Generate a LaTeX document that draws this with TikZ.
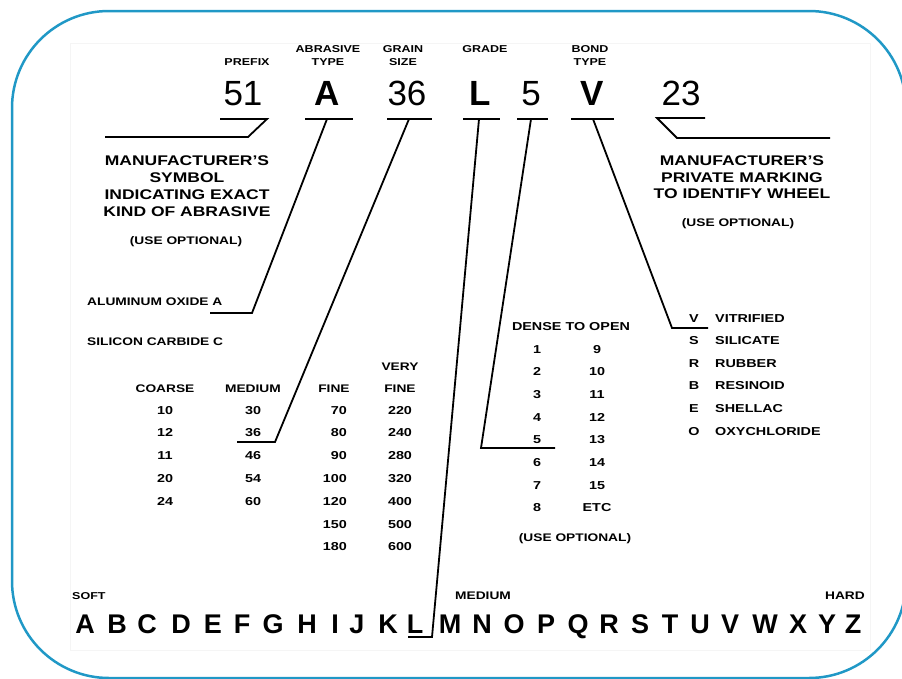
\documentclass[tikz,border=0pt]{standalone}
\usepackage{fontspec}
\setmainfont{Liberation Sans}
\newfontfamily\wf[FakeStretch=1.25]{Liberation Sans}
\definecolor{framecol}{RGB}{32,152,198}
\begin{document}
\begin{tikzpicture}[x=1pt,y=-1pt,
  t/.style={inner sep=0pt, anchor=base, text=black},
  s10/.style={t, font=\wf\bfseries\fontsize{10}{12}\selectfont},
  s11/.style={t, font=\wf\bfseries\fontsize{11}{13}\selectfont},
  num/.style={t, font=\wf\bfseries\fontsize{11.5}{13}\selectfont},
  s14/.style={t, font=\wf\bfseries\fontsize{14}{17}\selectfont},
  big/.style={t, font=\fontsize{35}{40}\selectfont},
  bigb/.style={t, font=\bfseries\fontsize{35}{40}\selectfont},
  alph/.style={t, font=\bfseries\fontsize{27}{30}\selectfont},
  lead/.style={line width=1.8pt, black, line join=miter}]
\useasboundingbox (0,0) rectangle (902,678);
% frame
\draw[framecol, line width=2.5pt, rounded corners=97pt] (12,11) rectangle (906,678);
\draw[black!4, line width=0.8pt] (70,43) rectangle (870,650);

% header labels
\node[s10] (hpre) at (247,65.5) {PREFIX};
\node[s10] (hab1) at (328,52.5) {ABRASIVE};
\node[s10] (hab2) at (328,65.5) {TYPE};
\node[s10] (hgr1) at (403,52.5) {GRAIN};
\node[s10] (hgr2) at (403,65.5) {SIZE};
\node[s10] (hgd) at (485,52.5) {GRADE};
\node[s10] (hbo1) at (590,52.5) {BOND};
\node[s10] (hbo2) at (590,65.5) {TYPE};

% big marking
\node[big] (n51) at (243,105) {51};
\node[bigb] (nA) at (327,105) {A};
\node[big] (n36) at (407,105) {36};
\node[bigb] (nL) at (480,105) {L};
\node[big] (n5) at (531,105) {5};
\node[bigb] (nV) at (592,105) {V};
\node[big] (n23) at (681,105) {23};

% leader points
\coordinate (p1) at (220,119); \coordinate (p2) at (267,119);
\coordinate (p3) at (248,137); \coordinate (p4) at (105,137);
\coordinate (a1) at (305,119); \coordinate (a2) at (353,119);
\coordinate (a3) at (327,119); \coordinate (a4) at (252,313); \coordinate (a5) at (210,313);
\coordinate (g1) at (387,119); \coordinate (g2) at (432,119);
\coordinate (g3) at (409,119); \coordinate (g4) at (275,442); \coordinate (g5) at (237,442);
\coordinate (d1) at (463,119); \coordinate (d2) at (500,119);
\coordinate (d3) at (479,119); \coordinate (d4) at (432,637); \coordinate (d5) at (408,637);
\coordinate (s1) at (517,119); \coordinate (s2) at (548,119);
\coordinate (s3) at (531,119); \coordinate (s4) at (481,448); \coordinate (s5) at (555,448);
\coordinate (b1) at (571,119); \coordinate (b2) at (614,119);
\coordinate (b3) at (593,119); \coordinate (b4) at (672,328); \coordinate (b5) at (708,328);
\coordinate (m1) at (705,118); \coordinate (m2) at (657,118);
\coordinate (m3) at (677,138); \coordinate (m4) at (830,138);

\draw[lead] (p1) -- (p2) -- (p3) -- (p4);
\draw[lead] (a1) -- (a2); \draw[lead] (a3) -- (a4) -- (a5);
\draw[lead] (g1) -- (g2); \draw[lead] (g3) -- (g4) -- (g5);
\draw[lead] (d1) -- (d2); \draw[lead] (d3) -- (d4) -- (d5);
\draw[lead] (s1) -- (s2); \draw[lead] (s3) -- (s4) -- (s5);
\draw[lead] (b1) -- (b2); \draw[lead] (b3) -- (b4) -- (b5);
\draw[lead] (m1) -- (m2) -- (m3) -- (m4);

% left block
\node[s14] (l1) at (187,165) {MANUFACTURER’S};
\node[s14] (l2) at (187,182) {SYMBOL};
\node[s14] (l3) at (187,199) {INDICATING EXACT};
\node[s14] (l4) at (187,216) {KIND OF ABRASIVE};
\node[s11] (l5) at (186,244) {(USE OPTIONAL)};

% right block
\node[s14] (r1) at (742,165) {MANUFACTURER’S};
\node[s14] (r2) at (742,182) {PRIVATE MARKING};
\node[s14] (r3) at (742,198) {TO IDENTIFY WHEEL};
\node[s11] (r4) at (738,226) {(USE OPTIONAL)};

% abrasive types
\node[s11, anchor=base west] (alu) at (87,305) {ALUMINUM OXIDE A};
\node[s11, anchor=base west] (sil) at (87,345) {SILICON CARBIDE C};

% grain columns
\node[s11] (hco) at (165,392) {COARSE};
\node[s11] (hme) at (253,392) {MEDIUM};
\node[s11] (hfi) at (334,392) {FINE};
\node[s11] (hvf1) at (400,370) {VERY};
\node[s11] (hvf2) at (400,392) {FINE};
\foreach \v [count=\i] in {10,12,11,20,24}
  \node[num] (co\i) at (165,{414+22.8*(\i-1)}) {\v};
\foreach \v [count=\i] in {30,36,46,54,60}
  \node[num] (me\i) at (253,{414+22.8*(\i-1)}) {\v};
\foreach \v [count=\i] in {70,80,90,100,120,150,180}
  \node[num, anchor=base east] (fi\i) at (347,{414+22.8*(\i-1)}) {\v};
\foreach \v [count=\i] in {220,240,280,320,400,500,600}
  \node[num] (vf\i) at (400,{414+22.8*(\i-1)}) {\v};

% structure
\node[num] (dto) at (571,330) {DENSE TO OPEN};
\foreach \v [count=\i] in {1,2,3,4,5,6,7,8}
  \node[num] (sl\i) at (537,{353+22.7*(\i-1)}) {\v};
\foreach \v [count=\i] in {9,10,11,12,13,14,15,ETC}
  \node[num] (sr\i) at (597,{353+22.7*(\i-1)}) {\v};
\node[s11] (suo) at (575,541) {(USE OPTIONAL)};

% bond types
\foreach \c/\n [count=\i] in {V/VITRIFIED,S/SILICATE,R/RUBBER,B/RESINOID,E/SHELLAC,O/OXYCHLORIDE}{
  \node[num] (bc\i) at (694,{322+22.6*(\i-1)}) {\c};
  \node[num, anchor=base west] (bn\i) at (715,{322+22.6*(\i-1)}) {\n};
}

% grade scale
\node[s10, anchor=base west] (soft) at (72,599) {SOFT};
\node[s11] (med) at (483,599) {MEDIUM};
\node[s11, anchor=base east] (hard) at (865,599) {HARD};
\foreach \l/\x in {A/85,B/117,C/147,D/181,E/213,F/242,G/273,H/307,I/335,J/357,K/388,L/415,M/450,N/482,O/514,P/546,Q/578,R/609,S/640,T/670,U/700,V/730,W/765,X/798,Y/827,Z/853}
  \node[alph] (g\l) at (\x,633) {\l};
\end{tikzpicture}
\end{document}
